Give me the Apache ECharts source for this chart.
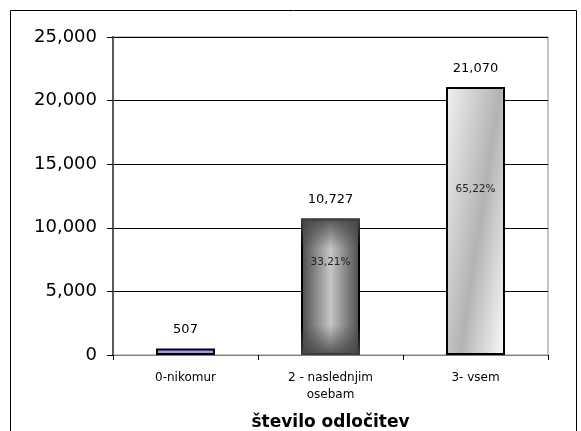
<!DOCTYPE html>
<html>
<head>
<meta charset="utf-8">
<script src="https://cdn.jsdelivr.net/npm/echarts@6/dist/echarts.min.js"></script>
<style>
html,body{margin:0;padding:0;background:#fff;}
#chart{width:581px;height:431px;}
</style>
</head>
<body>
<div id="chart"></div>
<script>
var categories = ["0-nikomur", "2 - naslednjim\nosebam", "3- vsem"];
var values = [507, 10727, 21070];
var percentLabels = ["", "33,21%", "65,22%"];
var yTicks = [0, 5000, 10000, 15000, 20000, 25000];

var fills = [
  '#9999ff',
  new echarts.graphic.LinearGradient(0, 0, 1, 0, [
    {offset: 0, color: '#4a4a4a'},
    {offset: 0.5, color: '#c6c6c6'},
    {offset: 1, color: '#4a4a4a'}
  ]),
  new echarts.graphic.LinearGradient(0, 0, 1.66, 0.056, [
    {offset: 0, color: '#f2f2f2'},
    {offset: 0.55, color: '#b3b3b3'},
    {offset: 1, color: '#fcfcfc'}
  ])
];
var overlays = [
  'rgba(0,0,0,0)',
  new echarts.graphic.LinearGradient(0, 0, 0, 1, [
    {offset: 0, color: 'rgba(70,70,70,0.9)'},
    {offset: 0.22, color: 'rgba(70,70,70,0)'},
    {offset: 0.78, color: 'rgba(70,70,70,0)'},
    {offset: 1, color: 'rgba(70,70,70,0.9)'}
  ]),
  'rgba(0,0,0,0)'
];
var pctPos = [['50%','35%'], ['50%','32%'], ['50%','38%']];

var fmt = function (v) { return v.toString().replace(/\B(?=(\d{3})+(?!\d))/g, ','); };
var FONT = 'DejaVu Sans, Liberation Sans, Arial, sans-serif';

var chart = echarts.init(document.getElementById('chart'), null, {renderer: 'canvas'});
chart.setOption({
  backgroundColor: '#ffffff',
  animation: false,
  textStyle: {fontFamily: FONT},
  graphic: [{
    type: 'rect', silent: true, z: -1,
    shape: {x: 10.5, y: 10.5, width: 566, height: 440},
    style: {fill: 'none', stroke: '#000', lineWidth: 1}
  }],
  grid: {left: 113, right: 33, top: 37, bottom: 76, containLabel: false, outerBoundsMode: 'none',
    show: true, borderColor: '#8c8c8c', borderWidth: 1},
  xAxis: {
    type: 'category',
    data: categories,
    name: 'število odločitev',
    nameLocation: 'middle',
    nameGap: 59,
    nameTextStyle: {fontSize: 17, fontWeight: 'bold', color: '#000', fontFamily: FONT},
    axisLine: {lineStyle: {color: '#808080', width: 1}},
    axisTick: {show: true, length: 5, lineStyle: {color: '#000'}},
    axisLabel: {fontSize: 12, color: '#000', margin: 14, lineHeight: 17, fontFamily: FONT}
  },
  yAxis: {
    type: 'value',
    min: yTicks[0],
    max: yTicks[yTicks.length - 1],
    interval: yTicks[1] - yTicks[0],
    axisLine: {show: true, lineStyle: {color: '#5a5a5a', width: 2}},
    axisTick: {show: true, length: 6, lineStyle: {color: '#000', width: 1}},
    axisLabel: {fontSize: 18, color: '#000', margin: 16, formatter: fmt, fontFamily: FONT},
    splitLine: {show: true, lineStyle: {color: '#000', width: 1}}
  },
  series: [{
    type: 'bar',
    barWidth: 59,
    data: values.map(function (v, i) {
      return {value: v, itemStyle: {color: fills[i], borderColor: '#000', borderWidth: 2}};
    }),
    label: {show: true, position: 'top', distance: 12, fontSize: 13, color: '#000', fontFamily: FONT, formatter: function (p) { return fmt(p.value); }}
  }, {
    type: 'bar',
    barWidth: 59,
    barGap: '-100%',
    silent: true,
    z: 3,
    data: values.map(function (v, i) {
      return {value: v, itemStyle: {color: overlays[i]},
        label: {show: percentLabels[i] !== '', position: pctPos[i], align: 'center', verticalAlign: 'middle', formatter: percentLabels[i]}};
    }),
    label: {fontSize: 10.5, color: '#222', fontFamily: FONT}
  }]
});
</script>
</body>
</html>
